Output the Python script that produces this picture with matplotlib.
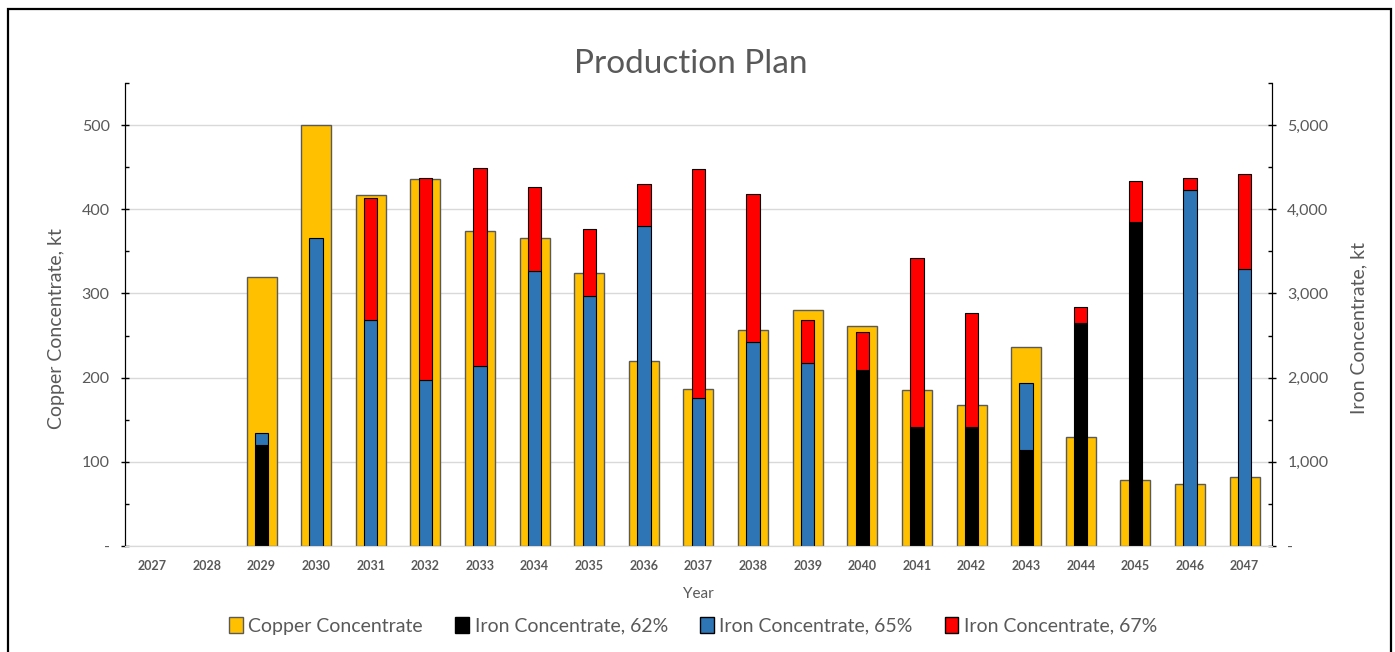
import matplotlib.pyplot as plt
import numpy as np
from matplotlib.patches import Patch, Rectangle
from matplotlib.ticker import FuncFormatter, MultipleLocator

# --- Data (kt) ---
years = [str(y) for y in range(2027, 2048)]
copper = [0, 0, 320, 500, 417, 436, 374, 366, 324, 220, 187,
          257, 280, 261, 185, 168, 236, 129, 78, 74, 82]
iron_62 = [0, 0, 1196, 0, 0, 0, 0, 0, 0, 0, 0,
           0, 0, 2086, 1413, 1409, 1136, 2648, 3844, 0, 0]
iron_65 = [0, 0, 150, 3662, 2680, 1975, 2142, 3270, 2965, 3800, 1754,
           2427, 2177, 0, 0, 0, 804, 0, 0, 4228, 3286]
iron_67 = [0, 0, 0, 0, 1457, 2400, 2347, 998, 804, 499, 2723,
           1750, 503, 456, 2003, 1362, 0, 194, 495, 147, 1132]

# --- Style ---
GOLD = "#FFC000"
BLUE = "#2E75B6"
RED = "#FF0000"
TEXT = "#595959"
GRID = "#D9D9D9"
plt.rcParams["font.family"] = ["Lato", "DejaVu Sans"]

x = np.arange(len(years))
iron_62 = np.array(iron_62)
iron_65 = np.array(iron_65)
iron_67 = np.array(iron_67)

fig = plt.figure(figsize=(13.95, 6.52), dpi=100)
ax = fig.add_axes([0.0896, 0.1626, 0.8222, 0.7101])
ax2 = ax.twinx()

# copper on the left axis, wide bars behind
cu_bars = ax.bar(x, copper, width=0.55, color=GOLD, edgecolor="#5a5a5a",
                 linewidth=1.0, zorder=2)
# iron stacked on the right axis, narrow bars
b62 = ax2.bar(x, iron_62, width=0.245, color="black", edgecolor="black",
              linewidth=0.8)
b65 = ax2.bar(x, iron_65, width=0.245, bottom=iron_62, color=BLUE,
              edgecolor="black", linewidth=0.8)
b67 = ax2.bar(x, iron_67, width=0.245, bottom=iron_62 + iron_65, color=RED,
              edgecolor="black", linewidth=0.8)
# hide zero-height segments so their edges don't draw a line at the base
for bars, vals in [(cu_bars, copper), (b62, iron_62), (b65, iron_65), (b67, iron_67)]:
    for b, v in zip(bars, vals):
        if v == 0:
            b.set_visible(False)

ax.set_xlim(-0.5, len(years) - 0.5)
ax.set_ylim(0, 550)
ax2.set_ylim(0, 5500)
ax.set_xticks(x)
ax.set_xticklabels(years, fontsize=9, fontweight="bold", color=TEXT)
ax.tick_params(axis="x", length=0, pad=10)

ax.yaxis.set_major_locator(MultipleLocator(100))
ax.yaxis.set_minor_locator(MultipleLocator(50))
ax2.yaxis.set_major_locator(MultipleLocator(1000))
ax2.yaxis.set_minor_locator(MultipleLocator(500))
fmt = FuncFormatter(lambda v, p: "-" if v == 0 else f"{v:,.0f}")
ax.yaxis.set_major_formatter(fmt)
ax2.yaxis.set_major_formatter(fmt)
for a in (ax, ax2):
    a.tick_params(axis="y", which="major", direction="inout", length=6,
                  width=1, labelsize=11.5, labelcolor=TEXT, color="black", pad=8)
    a.tick_params(axis="y", which="minor", direction="in", length=3, width=1,
                  color="black")

ax.grid(axis="y", color=GRID, linewidth=1)
ax.set_axisbelow(True)
ax.spines["top"].set_visible(False)
ax2.spines["top"].set_visible(False)
ax.spines["bottom"].set_color(GRID)
ax2.spines["bottom"].set_color(GRID)

ax.set_ylabel("Copper Concentrate, kt", fontsize=14, color=TEXT)
ax2.set_ylabel("Iron Concentrate, kt", fontsize=14, color=TEXT)
ax.yaxis.set_label_coords(-0.052, 0.47)
ax2.yaxis.set_label_coords(1.068, 0.47)
ax.set_xlabel("Year", fontsize=11, color=TEXT, labelpad=11)
fig.text(0.495, 0.902, "Production Plan", fontsize=24, color=TEXT,
         ha="center", va="center")

handles = [
    Patch(facecolor=GOLD, edgecolor="#5a5a5a", label="Copper Concentrate"),
    Patch(facecolor="black", edgecolor="black", label="Iron Concentrate, 62%"),
    Patch(facecolor=BLUE, edgecolor="black", label="Iron Concentrate, 65%"),
    Patch(facecolor=RED, edgecolor="black", label="Iron Concentrate, 67%"),
]
fig.legend(handles=handles, loc="center", bbox_to_anchor=(0.497, 0.04),
           ncol=4, frameon=False, fontsize=14, handlelength=0.7,
           handleheight=0.9, handletextpad=0.3, columnspacing=1.65,
           labelcolor=TEXT)

# outer frame
fig.patches.append(Rectangle((8 / 1395, -0.02), 1383 / 1395, 1.006,
                             transform=fig.transFigure, fill=False,
                             edgecolor="black", linewidth=1.6))

fig.savefig("out.png", dpi=100)
